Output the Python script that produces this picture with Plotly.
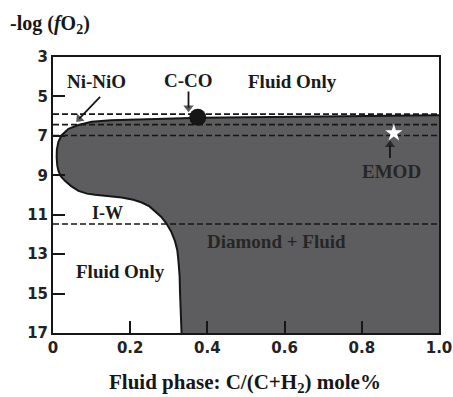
import plotly.graph_objects as go

# Boundary of the Diamond + Fluid field (x = C/(C+H2), y = -log fO2)
boundary_x = [1.0, 0.75, 0.5, 0.38, 0.29, 0.2, 0.15, 0.1, 0.066, 0.04, 0.022, 0.014, 0.010,
              0.0095, 0.011, 0.014, 0.020, 0.031, 0.047, 0.066, 0.088, 0.109, 0.145, 0.178,
              0.208, 0.23, 0.25, 0.264, 0.28, 0.294, 0.306, 0.316, 0.322, 0.325, 0.328,
              0.329, 0.331, 0.333]
boundary_y = [5.96, 6.0, 6.04, 6.08, 6.13, 6.18, 6.21, 6.28, 6.45, 6.64, 6.98, 7.3, 7.7,
              8.1, 8.5, 8.77, 9.05, 9.28, 9.55, 9.79, 9.93, 9.99, 10.06, 10.13,
              10.24, 10.38, 10.58, 10.8, 11.1, 11.45, 11.85, 12.34, 12.8, 13.36, 14.1,
              14.9, 16.0, 17.0]

# Buffer reference lines (-log fO2)
buffer_names = ["upper", "Ni-NiO", "lower", "I-W"]
buffer_levels = [5.9, 6.43, 6.98, 11.47]

# Markers
cco_x, cco_y = [0.375], [6.06]
emod_x, emod_y = [0.883], [6.86]

# Arrows: tail and head positions (head = centre of the arrowhead triangle)
arrow_tails_x = [0.122, 0.351, 0.873]
arrow_tails_y = [5.02, 4.75, 8.12]
arrow_heads_x = [0.068, 0.351, 0.873]
arrow_heads_y = [6.13, 5.57, 7.45]

x_ticks = [0, 0.2, 0.4, 0.6, 0.8, 1.0]
x_tick_labels = ["0", "0.2", "0.4", "0.6", "0.8", "1.0"]
y_ticks = [3, 5, 7, 9, 11, 13, 15, 17]

GRAY = "#5d5d5f"
SERIF = "Liberation Serif"
INK = "#161616"

fig = go.Figure()

# filled region
fx = boundary_x + [1.0, 1.0]
fy = boundary_y + [17.0, boundary_y[0]]
fig.add_trace(go.Scatter(x=fx, y=fy, mode="lines", fill="toself", fillcolor=GRAY,
                         line=dict(color=GRAY, width=0), hoverinfo="skip"))
# boundary curve
fig.add_trace(go.Scatter(x=boundary_x, y=boundary_y, mode="lines",
                         line=dict(color=INK, width=2), hoverinfo="skip"))

# dashed buffer lines
for name, lvl in zip(buffer_names, buffer_levels):
    fig.add_trace(go.Scatter(x=[0, 1], y=[lvl, lvl], mode="lines",
                             line=dict(color=INK, width=1.6, dash="6px,3px"),
                             hoverinfo="skip"))

# C-CO dot
fig.add_trace(go.Scatter(x=cco_x, y=cco_y, mode="markers",
                         marker=dict(size=17, color=INK), hoverinfo="skip"))
# EMOD star
fig.add_trace(go.Scatter(x=emod_x, y=emod_y, mode="markers",
                         marker=dict(size=13, color="white", symbol="star",
                                     line=dict(width=0)), hoverinfo="skip"))

# arrows drawn as line + triangular head marker
for tx, ty, hx, hy in zip(arrow_tails_x, arrow_tails_y, arrow_heads_x, arrow_heads_y):
    fig.add_trace(go.Scatter(x=[tx, hx], y=[ty, hy], mode="lines+markers",
                             line=dict(color=INK, width=1.8),
                             marker=dict(symbol="triangle-up", size=[0, 9], color=INK,
                                         angleref="previous", line=dict(width=0)),
                             hoverinfo="skip"))

def txt(x, y, s, size=19, color="#1a1a1a"):
    fig.add_annotation(x=x, y=y, xref="x", yref="y", text="<b>%s</b>" % s,
                       xanchor="center", yanchor="middle",
                       showarrow=False, font=dict(family=SERIF, size=size, color=color))

txt(0.62, 4.26, "Fluid Only")
txt(0.113, 4.26, "Ni-NiO")
txt(0.35, 4.17, "C-CO")
txt(0.877, 8.8, "EMOD", color="#262626")
txt(0.14, 10.9, "I-W", size=18)
txt(0.58, 12.34, "Diamond + Fluid", color="#262626")
txt(0.174, 13.87, "Fluid Only")

# axis titles as annotations
fig.add_annotation(x=-0.008, y=1.116, xref="paper", yref="paper", xanchor="center",
                   yanchor="middle",
                   text="<b>-log (<i>f</i>O<sub>2</sub>)</b>", showarrow=False,
                   font=dict(family=SERIF, size=20, color=INK))
fig.add_annotation(x=0.497, y=-0.181, xref="paper", yref="paper", xanchor="center",
                   yanchor="middle",
                   text="<b>Fluid phase: C/(C+H<sub>2</sub>) mole%</b>", showarrow=False,
                   font=dict(family=SERIF, size=21, color=INK))

axis_common = dict(showline=True, linecolor=INK, linewidth=2, mirror=True,
                   ticks="inside", ticklen=12, tickwidth=2, tickcolor=INK,
                   showgrid=False, zeroline=False, automargin=False,
                   tickfont=dict(family="DejaVu Sans", size=15, color="#222222", weight="bold"))

fig.update_xaxes(range=[0, 1], tickvals=x_ticks, ticktext=x_tick_labels, **axis_common)
fig.update_yaxes(range=[17, 3], tickvals=y_ticks, **axis_common)

fig.update_layout(width=453, height=397, margin=dict(l=53, r=14, t=57, b=64),
                  plot_bgcolor="white", paper_bgcolor="white", showlegend=False)

fig.write_html("out.html")
